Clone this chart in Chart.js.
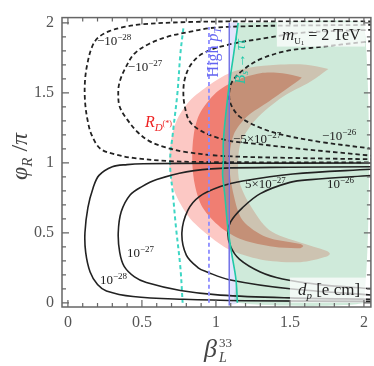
<!DOCTYPE html>
<html>
<head>
<meta charset="utf-8">
<script src="https://cdn.jsdelivr.net/npm/chart.js@4.4.0/dist/chart.umd.min.js"></script>
<style>
  html, body { margin: 0; padding: 0; background: #fff; }
</style>
</head>
<body>
<canvas id="c" width="374" height="366"></canvas>
<script>
// axis ticks
const xTicks = [0, 0.5, 1, 1.5, 2];
const yTicks = [0, 0.5, 1, 1.5, 2];

// R_D(*) regions (beta, phi/pi)
const rdOuter = [[1.76,1.67],[1.61,1.70],[1.41,1.70],[1.23,1.68],[1.09,1.64],[0.96,1.56],[0.82,1.44],[0.73,1.29],
  [0.69,1.1],[0.69,0.92],[0.73,0.77],[0.82,0.61],[0.94,0.49],[1.09,0.38],[1.3,0.31],[1.57,0.29],[1.75,0.33],[1.77,0.35],
  [1.75,0.37],[1.57,0.43],[1.36,0.52],[1.23,0.70],[1.16,0.86],[1.15,1.0],[1.17,1.15],[1.27,1.31],[1.45,1.47],[1.64,1.58],[1.76,1.67]];
const rdInner = [[1.58,1.61],[1.45,1.64],[1.30,1.64],[1.14,1.59],[1.0,1.5],[0.89,1.35],[0.85,1.2],[0.84,1.01],[0.86,0.83],
  [0.91,0.68],[1.03,0.54],[1.18,0.45],[1.39,0.40],[1.57,0.39],[1.59,0.405],
  [1.57,0.42],[1.34,0.47],[1.18,0.59],[1.12,0.77],[1.09,1.0],[1.12,1.2],[1.21,1.33],[1.36,1.44],[1.56,1.59],[1.58,1.61]];

// Bs -> tau tau bound, high pT bounds
const bsTauTau = [[1.15,2.0],[1.115,1.74],[1.095,1.6],[1.07,1.38],[1.05,1.15],[1.05,1.0],[1.045,0.92],[1.06,0.77],
  [1.08,0.54],[1.105,0.36],[1.135,0.17],[1.145,0.0]];
const bsDashed = [[0.78,1.96],[0.76,1.78],[0.74,1.5],[0.71,1.22],[0.69,1.0],[0.71,0.77],[0.73,0.54],[0.76,0.25],[0.775,0.0]];
const highPt = [[1.09,-0.02],[1.09,2.0]];
const highPtDashed = [[0.953,0.0],[0.953,1.97]];
const greenEdge = [[2.0,0.0],[2.0,2.0],[1.15,2.0]];

// d_p contours, positive (solid)
const p28 = [[2.06,0.998],[1.0,0.997],[0.51,0.993],[0.4,0.987],[0.3,0.972],[0.21,0.91],[0.17,0.82],[0.135,0.68],[0.115,0.5],
  [0.12,0.36],[0.15,0.22],[0.2,0.13],[0.26,0.085],[0.44,0.045],[0.78,0.025],[1.2,0.015],[2.06,0.01]];
const p27 = [[2.06,0.972],[1.5,0.968],[1.03,0.96],[0.8,0.935],[0.6,0.88],[0.5,0.83],[0.42,0.77],[0.36,0.65],[0.34,0.5],
  [0.35,0.36],[0.38,0.26],[0.45,0.185],[0.53,0.145],[0.76,0.088],[1.03,0.055],[1.5,0.035],[2.06,0.025]];
const p5e27 = [[2.06,0.955],[1.52,0.92],[1.18,0.87],[1.03,0.83],[0.89,0.76],[0.81,0.66],[0.77,0.5],[0.8,0.34],[0.88,0.25],
  [0.94,0.22],[1.09,0.165],[1.5,0.1],[2.06,0.055]];
const p26 = [[2.06,0.91],[1.64,0.88],[1.5,0.86],[1.3,0.78],[1.18,0.68],[1.1,0.58],[1.08,0.5],[1.1,0.4],[1.16,0.31],
  [1.3,0.22],[1.45,0.17],[1.7,0.13],[2.06,0.1]];
// negative (dashed)
const n28 = [[2.06,2.01],[1.2,2.01],[0.8,2.005],[0.51,1.99],[0.38,1.97],[0.28,1.94],[0.2,1.89],[0.16,1.82],[0.13,1.7],
  [0.115,1.58],[0.115,1.45],[0.13,1.32],[0.16,1.2],[0.22,1.1],[0.32,1.06],[0.44,1.035],[0.69,1.012],[1.0,1.005],[2.06,1.002]];
const n27 = [[2.06,1.985],[1.5,1.98],[1.2,1.975],[0.96,1.962],[0.82,1.935],[0.67,1.9],[0.55,1.85],[0.45,1.78],[0.39,1.68],
  [0.35,1.58],[0.34,1.5],[0.35,1.4],[0.4,1.31],[0.47,1.22],[0.55,1.155],[0.66,1.11],[0.78,1.08],[1.03,1.05],[1.5,1.035],[2.06,1.025]];
const n5e27 = [[2.06,1.95],[1.59,1.93],[1.36,1.895],[1.07,1.84],[0.91,1.78],[0.83,1.7],[0.79,1.6],[0.78,1.5],[0.79,1.4],
  [0.82,1.3],[0.88,1.24],[0.98,1.19],[1.1,1.155],[1.23,1.14],[1.57,1.1],[2.06,1.05]];
const n26 = [[2.06,1.87],[1.64,1.82],[1.48,1.8],[1.3,1.74],[1.18,1.66],[1.11,1.58],[1.09,1.5],[1.1,1.42],[1.16,1.33],
  [1.3,1.25],[1.45,1.2],[1.7,1.15],[2.06,1.1]];

const SERIF = '"Liberation Serif", "DejaVu Serif", serif';
const pts = a => a.map(p => ({x: p[0], y: p[1]}));

function area(d, color, order) {
  return {data: pts(d), showLine: true, fill: 'shape', backgroundColor: color, borderWidth: 0,
    pointRadius: 0, tension: 0.3, order: order};
}
function curve(d, color, width, dash, order) {
  return {data: pts(d), showLine: true, fill: false, borderColor: color, borderWidth: width,
    borderDash: dash, pointRadius: 0, tension: 0.35, order: order};
}

// text: [string, size, dy, italic]
function rich(ctx, parts, x, y, color) {
  let cx = x;
  ctx.fillStyle = color;
  ctx.textBaseline = 'alphabetic';
  ctx.textAlign = 'left';
  parts.forEach(p => {
    ctx.font = (p[3] ? 'italic ' : '') + p[1] + 'px ' + SERIF;
    ctx.fillText(p[0], cx, y + p[2]);
    cx += ctx.measureText(p[0]).width;
  });
}

const labels = [
  {b: 0.196, f: 1.84, parts: [['\u221210',13,0],['\u221228',9,-5]]},
  {b: 0.405, f: 1.658, parts: [['\u221210',13,0],['\u221227',9,-5]]},
  {b: 1.115, f: 1.142, parts: [['\u22125\u00d710',13,0],['\u221227',9,-5]]},
  {b: 1.716, f: 1.163, parts: [['\u221210',13,0],['\u221226',9,-5]]},
  {b: 1.196, f: 0.817, parts: [['5\u00d710',13,0],['\u221227',9,-5]]},
  {b: 1.75, f: 0.817, parts: [['10',13,0],['\u221226',9,-5]]},
  {b: 0.399, f: 0.329, parts: [['10',13,0],['\u221227',9,-5]]},
  {b: 0.216, f: 0.132, parts: [['10',13,0],['\u221228',9,-5]]}
];

const annotate = {
  id: 'annotate',
  afterDatasetsDraw(chart) {
    const ctx = chart.ctx, X = chart.scales.x, Y = chart.scales.y;
    ctx.save();
    // label boxes
    ctx.fillStyle = 'rgba(255,255,255,0.72)';
    ctx.fillRect(X.getPixelForValue(1.412), Y.getPixelForValue(2.005), X.getPixelForValue(2.007) - X.getPixelForValue(1.412), Y.getPixelForValue(1.83) - Y.getPixelForValue(2.005));
    ctx.fillRect(X.getPixelForValue(1.5), Y.getPixelForValue(0.18), X.getPixelForValue(2.014) - X.getPixelForValue(1.5), Y.getPixelForValue(0.0) - Y.getPixelForValue(0.18));
    labels.forEach(l => rich(ctx, l.parts, X.getPixelForValue(l.b), Y.getPixelForValue(l.f), '#222'));
    rich(ctx, [['m',17,0,true],['U',9,4],['1',7,5],[' = 2 TeV',16,0]], X.getPixelForValue(1.446), Y.getPixelForValue(1.875), '#222');
    rich(ctx, [['d',17,0,true],['p',11,4,true],[' [e cm]',17,0]], X.getPixelForValue(1.554), Y.getPixelForValue(0.058), '#222');
    rich(ctx, [['R',16,0,true],['D',11,4,true],['(*)',8,-1]], X.getPixelForValue(0.52), Y.getPixelForValue(1.258), '#ee2222');
    // rotated labels
    ctx.save();
    ctx.translate(X.getPixelForValue(1.014), Y.getPixelForValue(1.61));
    ctx.rotate(-Math.PI / 2);
    rich(ctx, [['High ',16,0],['p',16,0,true],['T',11,3,true]], 0, 0, '#6464f0');
    ctx.restore();
    ctx.save();
    ctx.translate(X.getPixelForValue(1.196), Y.getPixelForValue(1.563));
    ctx.rotate(-Math.PI / 2);
    rich(ctx, [['B',15,0,true],['s',10,3,true],[' \u2192 ',14,0],['\u03c4\u03c4\u0304',15,0,true]], 0, 0, '#1fc7a8');
    ctx.restore();
    ctx.restore();
  },
  afterDraw(chart) {
    const ctx = chart.ctx, X = chart.scales.x, Y = chart.scales.y;
    const {left, right, top, bottom} = chart.chartArea;
    ctx.save();
    ctx.strokeStyle = '#666';
    ctx.lineWidth = 1.2;
    for (let k = 0; k <= 20; k++) {
      const len = k % 5 === 0 ? 7 : 4;
      const px = X.getPixelForValue(k / 10), py = Y.getPixelForValue(k / 10);
      ctx.beginPath();
      ctx.moveTo(px, bottom); ctx.lineTo(px, bottom - len);
      ctx.moveTo(px, top); ctx.lineTo(px, top + len);
      ctx.moveTo(left, py); ctx.lineTo(left + len, py);
      ctx.moveTo(right, py); ctx.lineTo(right - len, py);
      ctx.stroke();
    }
    ctx.lineWidth = 1.5;
    ctx.strokeRect(left, top, right - left, bottom - top);
    // axis titles
    rich(ctx, [['\u03b2',26,0,true]], 204, 357, '#444');
    rich(ctx, [['33',13,0]], 219, 347, '#444');
    rich(ctx, [['L',14,0,true]], 219, 362, '#444');
    ctx.translate(27, 180);
    ctx.rotate(-Math.PI / 2);
    rich(ctx, [['\u03c6',24,0,true],['R',15,5,true],[' /',24,0],['\u03c0',24,0,true]], 0, 0, '#444');
    ctx.restore();
  }
};

const datasets = [
  area(rdOuter, '#fcc8c4', 20),
  area(rdInner, '#f07e72', 19),
  area(bsTauTau.concat(greenEdge), 'rgba(95,185,132,0.3)', 18),
  area([[1.09,2.0]].concat(bsTauTau, [[1.09,0.0],[1.09,2.0]]), 'rgba(90,90,240,0.16)', 17),
  curve(bsDashed, '#3ed6c4', 2, [4,3], 10),
  curve(p28, '#222', 1.6, [], 6),
  curve(p27, '#222', 1.6, [], 6),
  curve(p5e27, '#222', 1.6, [], 6),
  curve(p26, '#222', 1.6, [], 6),
  curve(n28, '#222', 1.8, [4.5,3], 6),
  curve(n27, '#222', 1.8, [4.5,3], 6),
  curve(n5e27, '#222', 1.8, [4.5,3], 6),
  curve(n26, '#222', 1.8, [4.5,3], 6),
  curve(highPtDashed, '#8c8cff', 1.8, [4,3], 4),
  curve(highPt, '#7070e6', 1.4, [], 3),
  curve(bsTauTau, '#20c9a6', 1.6, [], 2)
];

new Chart(document.getElementById('c'), {
  type: 'scatter',
  data: {datasets: datasets},
  options: {
    responsive: false,
    animation: false,
    devicePixelRatio: 1,
    events: [],
    layout: {padding: {left: 0, right: 3, top: 2, bottom: 0}},
    plugins: {legend: {display: false}, tooltip: {enabled: false}},
    scales: {
      x: {
        type: 'linear', min: -0.04, max: 2.047,
        grid: {display: false, drawTicks: false}, border: {display: false},
        afterBuildTicks: s => { s.ticks = xTicks.map(v => ({value: v})); },
        afterFit: s => { s.height = 59; },
        ticks: {padding: 6, color: '#555', font: {family: SERIF, size: 16}, maxRotation: 0, autoSkip: false,
          callback: v => String(v)}
      },
      y: {
        type: 'linear', min: -0.03, max: 2.037,
        grid: {display: false, drawTicks: false}, border: {display: false},
        afterBuildTicks: s => { s.ticks = yTicks.map(v => ({value: v})); },
        afterFit: s => { s.width = 62; },
        ticks: {padding: 8, color: '#555', font: {family: SERIF, size: 16}, autoSkip: false,
          callback: v => String(v)}
      }
    }
  },
  plugins: [annotate]
});
</script>
</body>
</html>
